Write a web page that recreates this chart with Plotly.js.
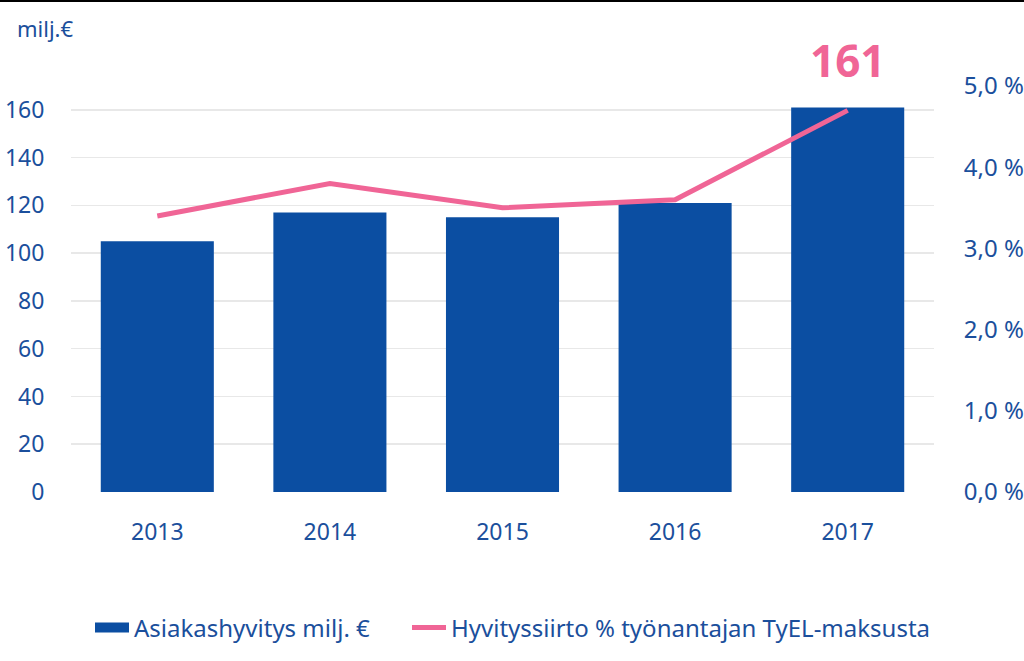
<!DOCTYPE html>
<html>
<head>
<meta charset="utf-8">
<script src="https://cdn.plot.ly/plotly-3.0.1.min.js"></script>
<style>html,body{margin:0;padding:0;background:#fff;}#chart{width:1024px;height:661px;}</style>
</head>
<body>
<div id="chart"></div>
<script>
var years = ['2013', '2014', '2015', '2016', '2017'];
var refundMillions = [105, 117, 115, 121, 161];
var transferPct = [3.4, 3.8, 3.5, 3.6, 4.7];
var leftTicks = [0, 20, 40, 60, 80, 100, 120, 140, 160];
var rightTickVals = [0, 1, 2, 3, 4, 5];
var rightTickText = ['0,0 %', '1,0 %', '2,0 %', '3,0 %', '4,0 %', '5,0 %'];
var barName = 'Asiakashyvitys milj. €';
var lineName = 'Hyvityssiirto % työnantajan TyEL-maksusta';
var unitLabel = 'milj.€';
var highlightLabel = '161';

var W = 1024, H = 661;
var M = {l: 71, r: 90, t: 86, b: 169};
var pw = W - M.l - M.r, ph = H - M.t - M.b;
var txt = '#1b4f9c';
var barColor = '#0b4ea2';
var pink = '#f06596';
var FONT = 'Noto Sans, Open Sans, sans-serif';

var data = [
  {type: 'bar', x: years, y: refundMillions, name: barName, marker: {color: barColor}, yaxis: 'y', hoverinfo: 'skip', showlegend: false},
  {type: 'scatter', mode: 'lines', x: [null], y: [null], name: barName, line: {color: barColor, width: 17}, yaxis: 'y', hoverinfo: 'skip', showlegend: true, legend: 'legend'},
  {type: 'scatter', mode: 'lines', x: years, y: transferPct, name: lineName, line: {color: pink, width: 5}, yaxis: 'y2', hoverinfo: 'skip', legend: 'legend2'}
];

var legendFont = {size: 24, color: txt};
var legendY = 1 - 628 / H;

var layout = {
  width: W, height: H,
  margin: M,
  paper_bgcolor: '#fff', plot_bgcolor: '#fff',
  font: {family: FONT, color: txt, size: 23},
  bargap: 0.345,
  showlegend: true,
  legend: {orientation: 'h', xref: 'container', x: 90 / W, xanchor: 'left', yref: 'container', y: legendY, yanchor: 'middle', font: legendFont, itemwidth: 34},
  legend2: {orientation: 'h', xref: 'container', x: 407 / W, xanchor: 'left', yref: 'container', y: legendY, yanchor: 'middle', font: legendFont, itemwidth: 34},
  xaxis: {type: 'category', range: [-0.5, 4.5], showgrid: false, zeroline: false, showline: false, ticks: 'outside', ticklen: 19, tickcolor: 'rgba(0,0,0,0)', tickfont: {size: 23, color: txt}},
  yaxis: {range: [0, 170], tickvals: leftTicks, showgrid: true, gridcolor: '#e8e8e8', gridwidth: 1.5, zeroline: false, showline: false, ticks: 'outside', ticklen: 21, tickcolor: 'rgba(0,0,0,0)', tickfont: {size: 23, color: txt}},
  yaxis2: {range: [0, 5], overlaying: 'y', side: 'right', tickvals: rightTickVals, ticktext: rightTickText, showgrid: false, zeroline: false, showline: false, ticks: 'outside', ticklen: 24, tickcolor: 'rgba(0,0,0,0)', tickfont: {size: 24, color: txt}},
  annotations: [
    {x: 4, y: refundMillions[4], xref: 'x', yref: 'y', text: '<b>' + highlightLabel + '</b>', showarrow: false, yanchor: 'bottom', yshift: 15, font: {size: 44, color: pink, family: FONT}},
    {xref: 'paper', yref: 'paper', x: (15 - M.l) / pw, y: 1 + (M.t - 28) / ph, xanchor: 'left', yanchor: 'middle', text: unitLabel, showarrow: false, font: {size: 22, color: txt}}
  ],
  shapes: [
    {type: 'line', xref: 'paper', yref: 'paper', x0: -M.l / pw, x1: (W - M.l) / pw, y0: 1 + (M.t - 1) / ph, y1: 1 + (M.t - 1) / ph, line: {color: '#000', width: 2}}
  ]
};

Plotly.newPlot('chart', data, layout, {displayModeBar: false, staticPlot: true});
</script>
</body>
</html>
